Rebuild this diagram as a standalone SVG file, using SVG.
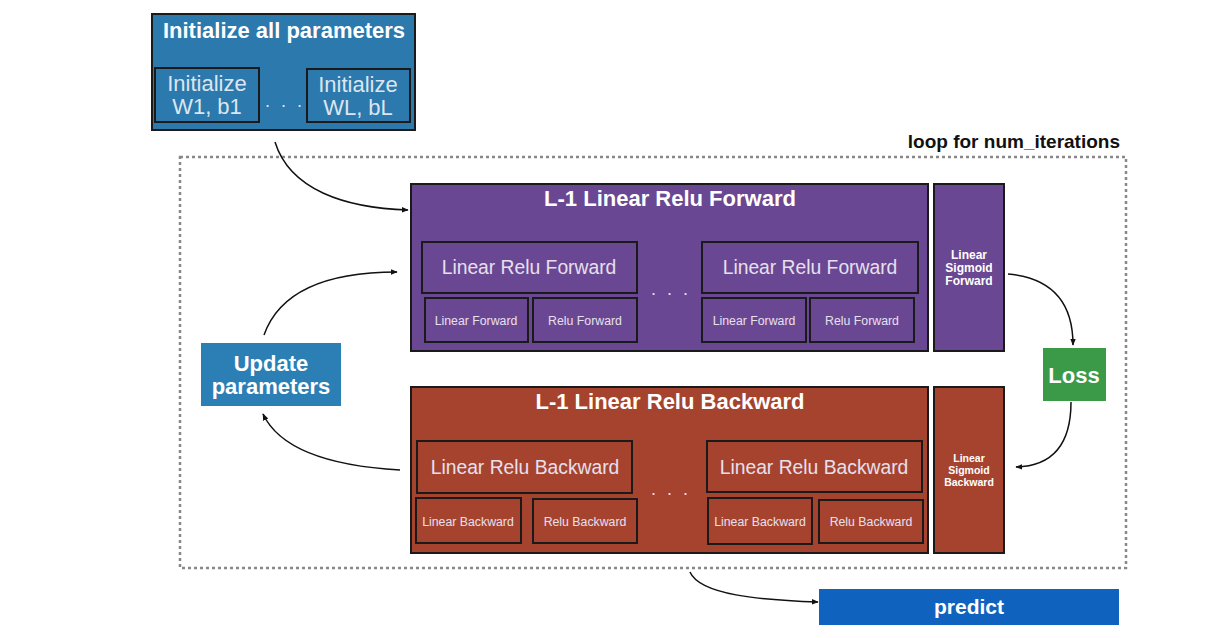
<svg xmlns="http://www.w3.org/2000/svg" width="1223" height="638" viewBox="0 0 1223 638">
  <defs>
    <marker id="arrow" viewBox="0 0 10 10" refX="9" refY="5" markerWidth="7" markerHeight="7" orient="auto" markerUnits="userSpaceOnUse">
      <path d="M0,1 L10,5 L0,9 z" fill="#111"/>
    </marker>
    <style>
      text { font-family: "Liberation Sans", Arial, sans-serif; fill: #f2f2f2; text-anchor: middle; }
      .title { font-weight: bold; font-size: 22px; fill: #ffffff; }
      .mid { font-size: 19.3px; fill: #e6e0ee; }
      .init { font-size: 22px; fill: #dde6f0; }
      .small { font-size: 12.3px; fill: #e6e0ee; }
      .sig { font-weight: bold; font-size: 12px; fill: #ffffff; }
      .sigb { font-weight: bold; font-size: 10.5px; fill: #ffffff; }
      .dots { font-size: 18px; fill: #e6e0ee; letter-spacing: 3px; }
      .blue { fill: #2c79ad; stroke: #1a1a1a; stroke-width: 2; }
      .purple { fill: #6a4792; stroke: #1a1a1a; stroke-width: 2; }
      .red { fill: #a6432f; stroke: #1a1a1a; stroke-width: 2; }
      .edge { fill: none; stroke: #111; stroke-width: 1.5; marker-end: url(#arrow); }
    </style>
  </defs>

  <rect width="1223" height="638" fill="#ffffff"/>

  <!-- loop frame -->
  <g id="loop">
    <rect x="180" y="157" width="946" height="411" fill="none" stroke="#888" stroke-width="2.5" stroke-dasharray="3,3"/>
    <text x="1120" y="148" style="font-weight:bold;font-size:19px;fill:#111;text-anchor:end">loop for num_iterations</text>
  </g>

  <!-- parameter initialisation -->
  <g id="init">
    <rect class="blue" x="152" y="14" width="263" height="116"/>
    <text class="title" x="284" y="38">Initialize all parameters</text>
    <rect class="blue" x="155" y="68" width="104" height="54"/>
    <text class="init" x="207" y="91">Initialize</text>
    <text class="init" x="207" y="114">W1, b1</text>
    <text class="dots" x="285" y="107">. . .</text>
    <rect class="blue" x="307" y="69" width="103" height="53"/>
    <text class="init" x="358" y="92">Initialize</text>
    <text class="init" x="358" y="115">WL, bL</text>
  </g>

  <!-- forward pass -->
  <g id="forward">
    <rect class="purple" x="411" y="184" width="517" height="167"/>
    <text class="title" x="670" y="206">L-1 Linear Relu Forward</text>
    <rect class="purple" x="422" y="242" width="215" height="51"/>
    <text class="mid" x="529" y="274">Linear Relu Forward</text>
    <rect class="purple" x="425" y="298" width="103" height="44"/>
    <text class="small" x="476" y="325">Linear Forward</text>
    <rect class="purple" x="533" y="298" width="104" height="44"/>
    <text class="small" x="585" y="325">Relu Forward</text>
    <text class="dots" x="671" y="295">. . .</text>
    <rect class="purple" x="702" y="242" width="216" height="51"/>
    <text class="mid" x="810" y="274">Linear Relu Forward</text>
    <rect class="purple" x="702" y="298" width="104" height="44"/>
    <text class="small" x="754" y="325">Linear Forward</text>
    <rect class="purple" x="810" y="298" width="104" height="44"/>
    <text class="small" x="862" y="325">Relu Forward</text>
  </g>

  <g id="sigmoid-forward">
    <rect class="purple" x="934" y="184" width="70" height="167"/>
    <text class="sig" x="969" y="259">Linear</text>
    <text class="sig" x="969" y="272">Sigmoid</text>
    <text class="sig" x="969" y="285">Forward</text>
  </g>

  <!-- backward pass -->
  <g id="backward">
    <rect class="red" x="411" y="387" width="517" height="166"/>
    <text class="title" x="670" y="409">L-1 Linear Relu Backward</text>
    <rect class="red" x="417" y="441" width="215" height="52"/>
    <text class="mid" x="525" y="474">Linear Relu Backward</text>
    <rect class="red" x="416" y="498" width="105" height="45"/>
    <text class="small" x="468" y="526">Linear Backward</text>
    <rect class="red" x="533" y="499" width="104" height="44"/>
    <text class="small" x="585" y="526">Relu Backward</text>
    <text class="dots" x="671" y="495">. . .</text>
    <rect class="red" x="707" y="441" width="215" height="51"/>
    <text class="mid" x="814" y="474">Linear Relu Backward</text>
    <rect class="red" x="708" y="498" width="104" height="46"/>
    <text class="small" x="760" y="526">Linear Backward</text>
    <rect class="red" x="819" y="500" width="104" height="43"/>
    <text class="small" x="871" y="526">Relu Backward</text>
  </g>

  <g id="sigmoid-backward">
    <rect class="red" x="934" y="387" width="70" height="166"/>
    <text class="sigb" x="969" y="462">Linear</text>
    <text class="sigb" x="969" y="474">Sigmoid</text>
    <text class="sigb" x="969" y="486">Backward</text>
  </g>

  <g id="update">
    <rect x="201" y="343" width="140" height="63" fill="#2c7fb5"/>
    <text class="title" x="271" y="371">Update</text>
    <text class="title" x="271" y="394">parameters</text>
  </g>

  <g id="loss">
    <rect x="1043" y="348" width="63" height="53" fill="#3a9a48"/>
    <text class="title" x="1074" y="383">Loss</text>
  </g>

  <g id="predict">
    <rect x="819" y="589" width="300" height="36" fill="#0f63bf"/>
    <text class="title" x="969" y="614" style="font-size:21px">predict</text>
  </g>

  <!-- connectors -->
  <g id="connectors">
    <path class="edge" d="M275,142 C290,190 345,208 408,210"/>
    <path class="edge" d="M264,335 C280,290 330,272 397,272"/>
    <path class="edge" d="M400,470 C330,466 280,450 263,414"/>
    <path class="edge" d="M1008,274 C1052,278 1073,302 1073,345"/>
    <path class="edge" d="M1071,402 C1071,442 1055,466 1016,467"/>
    <path class="edge" d="M690,572 C700,595 760,600 818,602"/>
  </g>
</svg>
